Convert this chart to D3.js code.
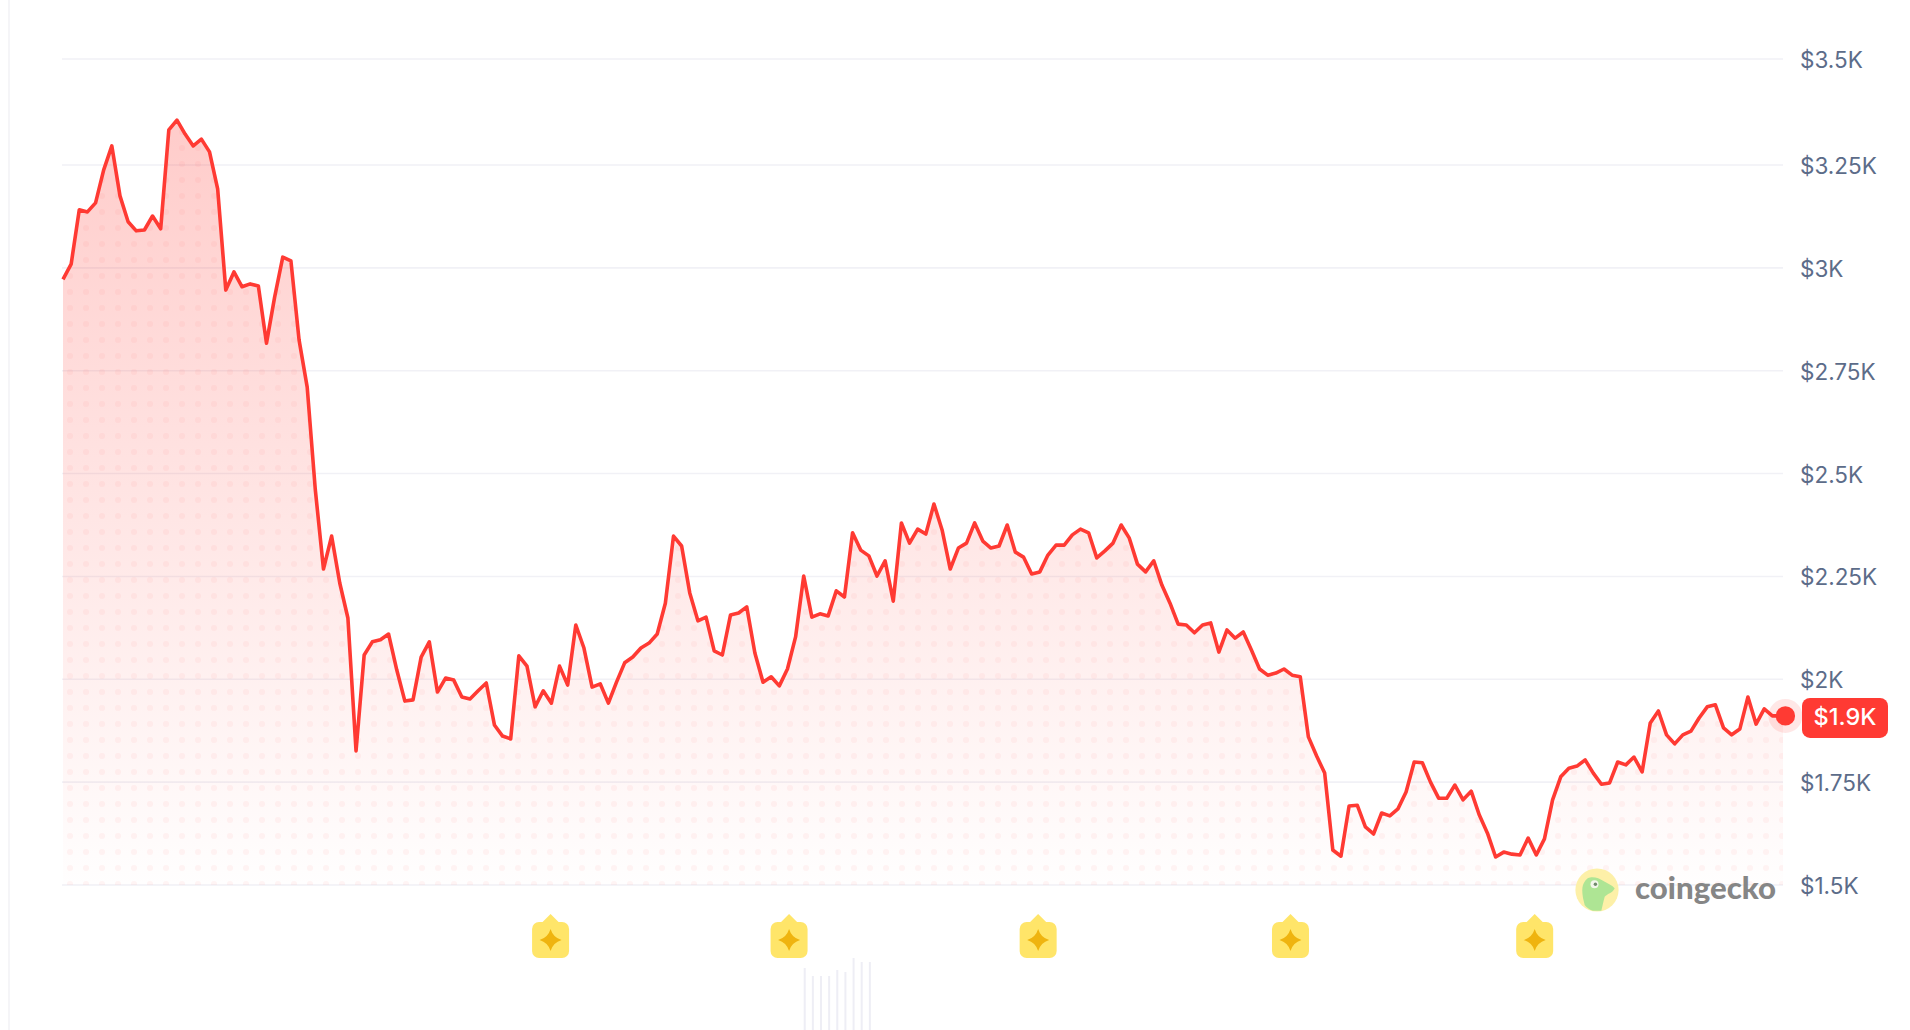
<!DOCTYPE html>
<html>
<head>
<meta charset="utf-8">
<title>Price chart</title>
<script src="https://cdn.jsdelivr.net/npm/d3@7"></script>
<style>
  html, body { margin: 0; background: #fff; overflow: hidden; }
  svg { display: block; font-family: Inter, "Noto Sans", sans-serif; }
  .y-axis text { fill: #5c6c89; font-size: 22.5px; font-family: Inter, "Noto Sans", sans-serif; }
  .y-axis line { stroke: #f1f1f6; stroke-width: 1.6; }
</style>
</head>
<body>
<svg id="chart" width="1910" height="1030"></svg>
<script>
const prices = [
  2972, 3009, 3141, 3136, 3158, 3238, 3295, 3175, 3112, 3090, 3092, 3126, 3095, 3333, 3356, 3323,
  3295, 3311, 3281, 3192, 2946, 2990, 2954, 2961, 2956, 2817, 2929, 3026, 3017, 2825, 2710, 2460,
  2268, 2348, 2234, 2149, 1826, 2059, 2091, 2096, 2110, 2023, 1947, 1950, 2054, 2091, 1969, 2003,
  1998, 1957, 1952, 1972, 1991, 1889, 1862, 1855, 2057, 2032, 1933, 1972, 1942, 2032, 1986, 2132,
  2076, 1981, 1989, 1942, 1993, 2040, 2054, 2076, 2088, 2110, 2185, 2348, 2324, 2210, 2142, 2151,
  2069, 2059, 2156, 2161, 2176, 2064, 1993, 2006, 1984, 2025, 2103, 2251, 2151, 2159, 2154, 2215,
  2200, 2356, 2314, 2300, 2251, 2288, 2190, 2380, 2331, 2365, 2353, 2426, 2363, 2268, 2319, 2331,
  2380, 2336, 2319, 2324, 2375, 2309, 2297, 2256, 2261, 2302, 2326, 2326, 2351, 2365, 2356, 2295,
  2312, 2331, 2375, 2343, 2280, 2261, 2288, 2229, 2185, 2134, 2132, 2113, 2132, 2137, 2066, 2120,
  2100, 2115, 2071, 2025, 2010, 2015, 2025, 2010, 2006, 1860, 1814, 1772, 1585, 1570, 1692, 1694,
  1641, 1624, 1675, 1668, 1685, 1726, 1799, 1797, 1750, 1711, 1711, 1743, 1707, 1728, 1670, 1626,
  1568, 1580, 1575, 1573, 1614, 1573, 1612, 1707, 1763, 1784, 1789, 1804, 1772, 1745, 1748, 1799,
  1792, 1811, 1775, 1894, 1923, 1865, 1843, 1865, 1874, 1906, 1933, 1938, 1882, 1865, 1879, 1957,
  1891, 1928, 1911, 1911
];
const priceTicks = [1500, 1750, 2000, 2250, 2500, 2750, 3000, 3250, 3500];
const tickLabels = ['$1.5K', '$1.75K', '$2K', '$2.25K', '$2.5K', '$2.75K', '$3K', '$3.25K', '$3.5K'];
const lastLabel = '$1.9K';
const eventIndexes = [59.9, 89.2, 119.8, 150.8, 180.8];
const volumeIndexes = [91, 92, 93, 94, 95, 96, 97, 98, 99];
const volumes = [62, 54, 54, 54, 60, 58, 72, 68, 68];

const width = 1910;
const height = 1030;
const plotLeft = 62;
const plotRight = 1783;
const red = '#ff3a33';

const svg = d3.select('#chart');

const x = d3.scaleLinear().domain([0, 211]).range([63, 1780.5]);
// the top tick sits a little further out than the rest on the original
const y = d3.scaleLinear().domain([1500, 3250, 3500]).range([885, 165, 59]);
const volumeY = d3.scaleLinear().domain([0, 100]).range([1030, 930]);

const rowIndex = (d, i) => i === prices.length - 1 ? x(211.6) : x(i);

// defs: fill gradient, dotted overlay, clip to plot area
const defs = svg.append('defs');
const gradient = defs.append('linearGradient')
  .attr('id', 'areaFill')
  .attr('gradientUnits', 'userSpaceOnUse')
  .attr('x1', 0).attr('x2', 0)
  .attr('y1', y(3356)).attr('y2', y(1500));
gradient.append('stop').attr('offset', 0).attr('stop-color', red).attr('stop-opacity', 0.26);
gradient.append('stop').attr('offset', 1).attr('stop-color', red).attr('stop-opacity', 0.005);

const dots = defs.append('pattern')
  .attr('id', 'dots')
  .attr('patternUnits', 'userSpaceOnUse')
  .attr('x', 62).attr('y', -4)
  .attr('width', 16).attr('height', 16);
dots.append('circle')
  .attr('cx', 8).attr('cy', 8).attr('r', 3)
  .attr('fill', red).attr('fill-opacity', 0.05);

defs.append('clipPath').attr('id', 'plotClip')
  .append('rect')
  .attr('x', plotLeft).attr('y', 0)
  .attr('width', plotRight - plotLeft).attr('height', y(1500));

// left border of the card
svg.append('line')
  .attr('x1', 9).attr('x2', 9)
  .attr('y1', 0).attr('y2', height)
  .attr('stroke', '#f3f3f6').attr('stroke-width', 1.6);

// gridlines and price labels
const yAxis = d3.axisRight(y)
  .tickValues(priceTicks)
  .tickFormat((d, i) => tickLabels[i])
  .tickSize(plotRight - plotLeft)
  .tickPadding(17)
  .offset(0);
const yAxisGroup = svg.append('g')
  .attr('class', 'y-axis')
  .attr('transform', `translate(${plotLeft},0)`)
  .call(yAxis);
yAxisGroup.select('.domain').remove();
yAxisGroup.selectAll('text').attr('dy', '0.4em');

// area and dots
const area = d3.area()
  .x(rowIndex)
  .y0(y(1500))
  .y1(d => y(d));
const areaGroup = svg.append('g').attr('clip-path', 'url(#plotClip)');
areaGroup.append('path').attr('d', area(prices)).attr('fill', 'url(#areaFill)');
areaGroup.append('path').attr('d', area(prices)).attr('fill', 'url(#dots)');

// price line
const line = d3.line()
  .x(rowIndex)
  .y(d => y(d));
svg.append('path')
  .attr('d', line(prices))
  .attr('fill', 'none')
  .attr('stroke', red)
  .attr('stroke-width', 3.6)
  .attr('stroke-linejoin', 'round');

// last price marker and badge
const lastX = rowIndex(null, prices.length - 1);
const lastY = y(prices[prices.length - 1]);
svg.append('circle')
  .attr('cx', lastX).attr('cy', lastY).attr('r', 17)
  .attr('fill', red).attr('fill-opacity', 0.12);
svg.append('circle')
  .attr('cx', lastX).attr('cy', lastY).attr('r', 9.7)
  .attr('fill', red);
svg.append('rect')
  .attr('x', 1802).attr('y', lastY - 18)
  .attr('width', 86).attr('height', 40)
  .attr('rx', 8)
  .attr('fill', red);
svg.append('text')
  .attr('x', 1845).attr('y', lastY + 1)
  .attr('dy', '0.36em')
  .attr('text-anchor', 'middle')
  .attr('fill', '#fff')
  .attr('font-size', 23.5)
  .attr('font-weight', 500)
  .text(lastLabel);

// event markers under the plot
const markers = svg.selectAll('.event')
  .data(eventIndexes)
  .join('g')
  .attr('class', 'event')
  .attr('transform', d => `translate(${x(d)},940)`);
markers.append('path')
  .attr('d', 'M-9,-17L0,-26L9,-17Z')
  .attr('fill', '#ffe569');
markers.append('rect')
  .attr('x', -18.5).attr('y', -18)
  .attr('width', 37).attr('height', 36)
  .attr('rx', 7)
  .attr('fill', '#ffe569');
markers.append('path')
  .attr('d', 'M0,-11Q2.5,-2.5,11,0Q2.5,2.5,0,11Q-2.5,2.5,-11,0Q-2.5,-2.5,0,-11Z')
  .attr('fill', '#efb40f');

// volume bars, cut off by the bottom of the window
svg.selectAll('.volume')
  .data(volumes)
  .join('rect')
  .attr('class', 'volume')
  .attr('x', (d, i) => x(volumeIndexes[i]))
  .attr('y', d => volumeY(d))
  .attr('width', 2)
  .attr('height', d => volumeY(0) - volumeY(d))
  .attr('fill', '#eeeef5');

// watermark
const logo = svg.append('g').attr('transform', 'translate(1597,890)');
logo.append('circle').attr('r', 21.6).attr('fill', '#fdf0a8');
logo.append('path')
  .attr('d', 'M-14,8C-15,2,-15,-2,-14,-5C-12,-10,-9,-12.7,-5.7,-12.7C-1,-13,3,-11,6,-9.3C10,-7,15,-5,17.7,-1.7C16.5,1,14.5,2.5,12.7,3.3C10.5,4.5,9,5.5,7.7,6.7C6.5,11,5.5,16,4.3,20.7L-4,20.7C-8,19.5,-10.5,17.5,-12.3,15Z')
  .attr('fill', '#aee594');
logo.append('circle').attr('cx', -2.5).attr('cy', -5.7).attr('r', 4).attr('fill', '#f4f7ec');
logo.append('circle').attr('cx', -1.6).attr('cy', -5.7).attr('r', 1.7).attr('fill', '#6f8a6c');
svg.append('text')
  .attr('x', 1635).attr('y', 899)
  .attr('fill', '#868686')
  .attr('font-family', 'Lato, Inter, sans-serif')
  .attr('font-size', 30)
  .attr('font-weight', 900)
  .attr('textLength', 141)
  .attr('lengthAdjust', 'spacingAndGlyphs')
  .text('coingecko');
</script>
</body>
</html>
